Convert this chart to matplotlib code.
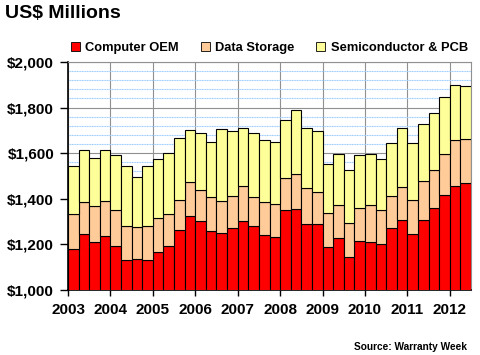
import numpy as np
import matplotlib
matplotlib.use("Agg")
import matplotlib.pyplot as plt
from matplotlib.patches import Patch

plt.rcParams['font.family'] = ['Liberation Sans', 'DejaVu Sans']

# quarterly data, 2003 Q1 .. 2012 Q2 (US$ millions)
computer_oem = [1179, 1246, 1209, 1237, 1192, 1130, 1135, 1130, 1165, 1192,
                1264, 1324, 1302, 1258, 1250, 1271, 1302, 1280, 1240, 1234,
                1350, 1356, 1290, 1290, 1189, 1227, 1143, 1214, 1211, 1202,
                1271, 1309, 1246, 1309, 1359, 1416, 1457, 1469]
data_storage = [153, 139, 160, 152, 158, 151, 140, 151, 150, 142,
                130, 150, 136, 150, 139, 142, 153, 128, 145, 142,
                143, 152, 157, 140, 148, 146, 150, 146, 162, 151,
                142, 143, 148, 168, 167, 180, 200, 193]
semi_pcb = [213, 227, 209, 223, 242, 264, 221, 264, 260, 266,
            272, 227, 250, 241, 318, 285, 255, 280, 272, 273,
            252, 281, 263, 268, 216, 223, 234, 230, 224, 222,
            231, 258, 250, 251, 250, 250, 243, 234]
years = ['2003', '2004', '2005', '2006', '2007', '2008', '2009', '2010', '2011', '2012']

c_red = '#FF0000'
c_peach = '#FFCC99'
c_yellow = '#FFFF99'

fig = plt.figure(figsize=(4.8, 3.55), dpi=100)
ax = fig.add_axes([68/480, 1 - 290/355, (471 - 68)/480, (290 - 62)/355])

x = np.arange(len(computer_oem))
a = np.array(computer_oem)
b = np.array(data_storage)
c = np.array(semi_pcb)
kw = dict(width=1.0, align='edge', edgecolor='black', linewidth=0.8, zorder=3)
ax.bar(x, a, color=c_red, **kw)
ax.bar(x, b, bottom=a, color=c_peach, **kw)
ax.bar(x, c, bottom=a + b, color=c_yellow, **kw)

ax.set_xlim(0, len(x))
ax.set_ylim(1000, 2000)

ax.set_yticks(np.arange(1000, 2001, 200))
ax.set_yticklabels(['${:,}'.format(v) for v in range(1000, 2001, 200)],
                   fontsize=11, fontweight='bold')
ax.set_yticks(np.arange(1000, 2001, 40), minor=True)
ax.set_xticks(np.arange(0, len(x), 4))
ax.set_xticklabels(years, fontsize=11, fontweight='bold')
ax.tick_params(axis='y', which='major', length=6, width=1, pad=4)
ax.tick_params(axis='y', which='minor', length=0)
ax.tick_params(axis='x', length=4, width=1, pad=5)

ax.grid(axis='y', which='minor', color='#99CCFF', linewidth=0.8, linestyle=(0, (1, 0.5)), zorder=0)
ax.grid(axis='y', which='major', color='#909090', linewidth=0.8, zorder=1)
ax.grid(axis='x', which='major', color='#909090', linewidth=0.8, zorder=1)

for s in ['top', 'right']:
    ax.spines[s].set_color('#909090')
    ax.spines[s].set_linewidth(0.8)
for s in ['left', 'bottom']:
    ax.spines[s].set_color('black')
    ax.spines[s].set_linewidth(1.2)

fig.text(5/480, 1 - 13/355, 'US$ Millions', fontsize=14, fontweight='bold', va='center', ha='left')

handles = [Patch(facecolor=c_red, edgecolor='black', linewidth=0.6),
           Patch(facecolor=c_peach, edgecolor='black', linewidth=0.6),
           Patch(facecolor=c_yellow, edgecolor='black', linewidth=0.6)]
fig.legend(handles, ['Computer OEM', 'Data Storage', 'Semiconductor & PCB'],
           loc='center left', bbox_to_anchor=(71/480, 1 - 48/355), ncol=3, frameon=False,
           prop={'weight': 'bold', 'size': 9.3}, handlelength=0.7, handleheight=0.7,
           handletextpad=0.4, columnspacing=1.7, borderaxespad=0, borderpad=0)

fig.text(467/480, 1 - 347/355, 'Source: Warranty Week', fontsize=7.3, fontweight='bold',
         ha='right', va='center')

fig.savefig('out.png', dpi=100)
